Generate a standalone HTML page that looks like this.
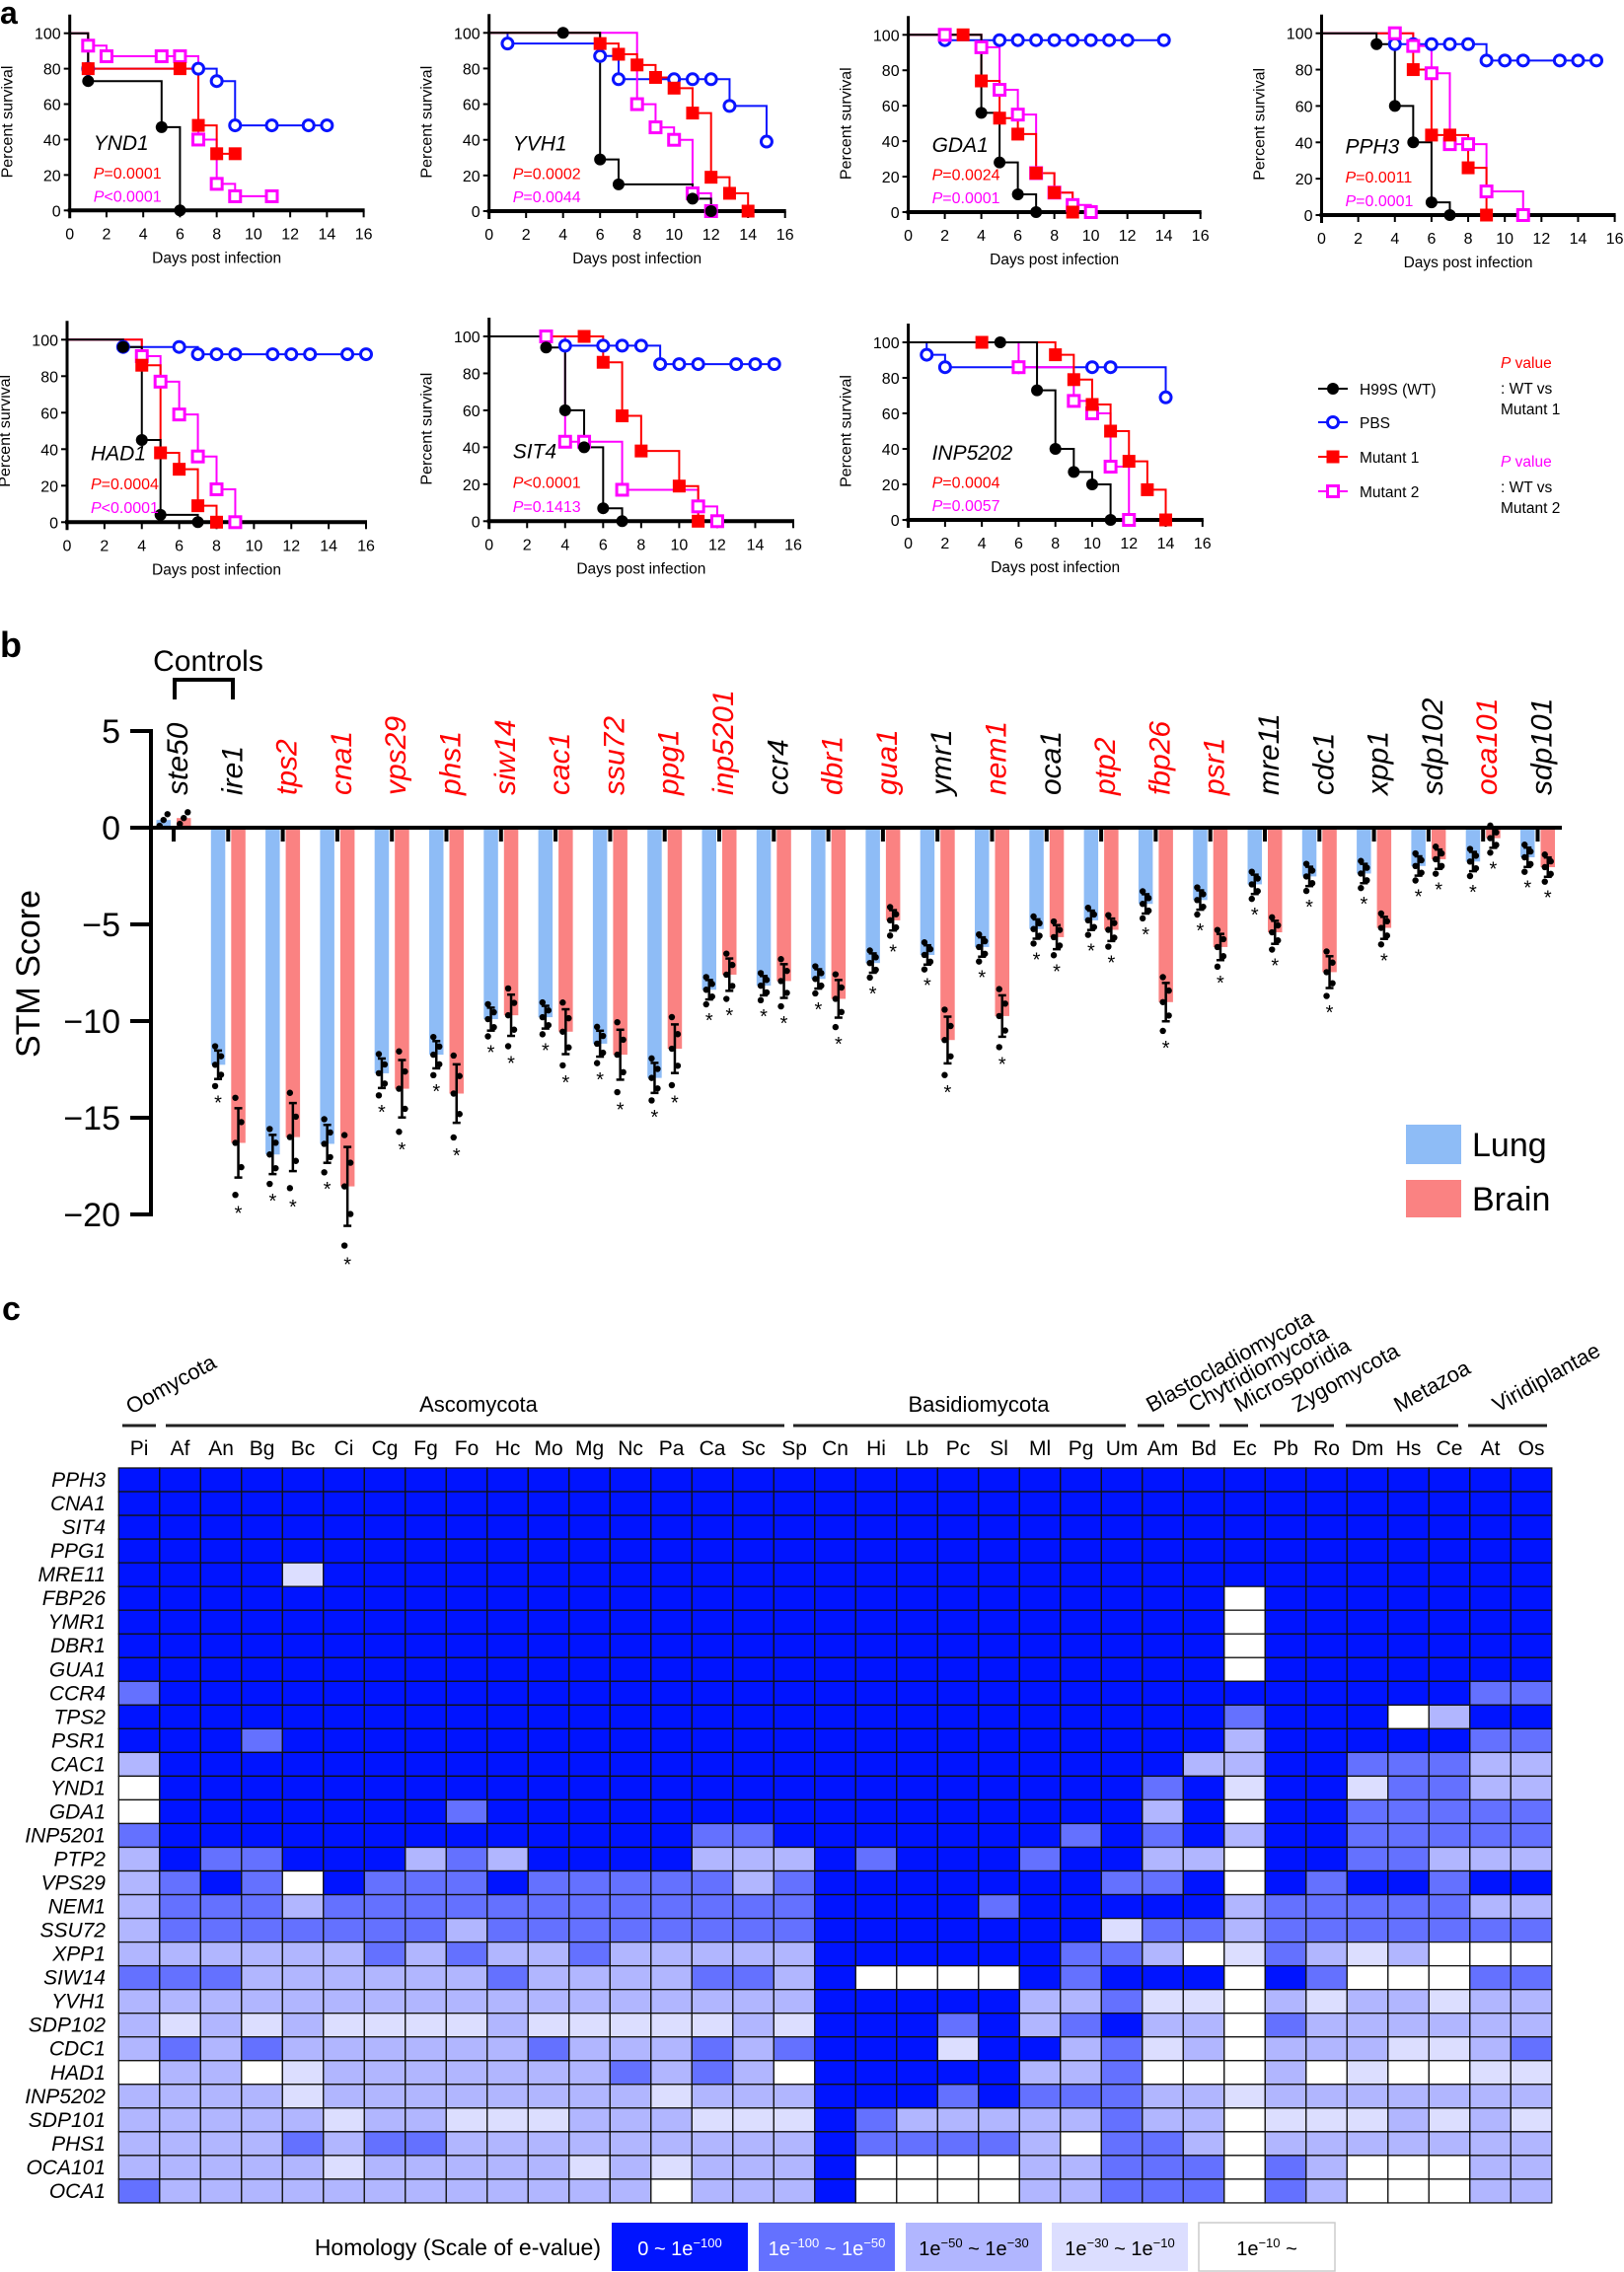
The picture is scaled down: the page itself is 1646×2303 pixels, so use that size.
<!DOCTYPE html>
<html><head><meta charset="utf-8"><style>
html,body{margin:0;padding:0;background:#fff;}
svg{display:block;font-family:"Liberation Sans",sans-serif;}
</style></head><body>
<svg id="s" width="1646" height="2303" viewBox="0 0 1646 2303" xmlns="http://www.w3.org/2000/svg"></svg>
<script>
var o=[];
function T(x,y,s,a){o.push('<text x="'+x+'" y="'+y+'" '+(a||'')+'>'+s+'</text>');}
function L(x1,y1,x2,y2,c,w){o.push('<line x1="'+x1+'" y1="'+y1+'" x2="'+x2+'" y2="'+y2+'" stroke="'+(c||'#000')+'" stroke-width="'+(w||1)+'"/>');}
function R(x,y,w,h,f,a){o.push('<rect x="'+x+'" y="'+y+'" width="'+w+'" height="'+h+'" fill="'+f+'" '+(a||'')+'/>');}
// ---------- panel a ----------
T(0,24,'a','font-size="32" font-weight="bold"');
var COL={k:'#000',b:'#0a14ff',r:'#ff0000',m:'#ff00ff'};
function panel(x0,x16,y100,y0,ser,gene,p1,p2){
  var dx=(x16-x0)/16,dy=(y0-y100)/100;
  function X(d){return x0+d*dx;} function Y(v){return y0-v*dy;}
  ['b','m','r','k'].forEach(function(k){
    var pts=ser[k]; if(!pts) return;
    var d='M'+X(0)+','+Y(100);
    pts.forEach(function(p){d+=' H'+X(p[0])+' V'+Y(p[1]);});
    o.push('<path d="'+d+'" fill="none" stroke="'+COL[k]+'" stroke-width="2"/>');
  });
  L(x0,y100-19,x0,y0+8,'#000',3);
  L(x0-2,y0,x16+1,y0,'#000',4);
  for(var v=0;v<=100;v+=20){L(x0-6,Y(v),x0,Y(v),'#000',2);T(x0-9,Y(v)+6,v,'font-size="16" text-anchor="end"');}
  for(var d=0;d<=16;d+=2){L(X(d),y0,X(d),y0+7,'#000',2);T(X(d),y0+29,d,'font-size="16" text-anchor="middle"');}
  T((x0+x16)/2,y0+53,'Days post infection','font-size="15.5" text-anchor="middle"');
  var cy=(y100+y0)/2;
  T(x0-58,cy,'Percent survival','font-size="16" text-anchor="middle" transform="rotate(-90 '+(x0-58)+' '+cy+')"');
  ['b','m','r','k'].forEach(function(k){
    var pts=ser[k]; if(!pts) return;
    pts.forEach(function(p){var x=X(p[0]),y=Y(p[1]);
      if(k=='k') o.push('<circle cx="'+x+'" cy="'+y+'" r="6" fill="#000"/>');
      if(k=='b') o.push('<circle cx="'+x+'" cy="'+y+'" r="5.5" fill="#fff" stroke="'+COL.b+'" stroke-width="3"/>');
      if(k=='r') R(x-6.5,y-6.5,13,13,'#ff0000');
      if(k=='m') R(x-5.5,y-5.5,11,11,'#fff','stroke="#ff00ff" stroke-width="3"');
    });
  });
  T(x0+24,Y(34),gene,'font-size="21" font-style="italic"');
  T(x0+24,Y(18),'<tspan font-style="italic">P</tspan>'+p1,'font-size="16" fill="#ff0000"');
  T(x0+24,Y(5),'<tspan font-style="italic">P</tspan>'+p2,'font-size="16" fill="#ff00ff"');
}
panel(70.7,368.6,33.7,213.3,{k:[[1,73],[5,47],[6,0]],b:[[1,80],[7,80],[8,73],[9,48],[11,48],[13,48],[14,48]],r:[[1,80],[6,80],[7,48],[8,32],[9,32]],m:[[1,93],[2,87],[5,87],[6,87],[7,40],[8,15],[9,8],[11,8]]},'YND1','=0.0001','&lt;0.0001');
panel(495.7,795.7,33.3,214,{k:[[4,100],[6,29],[7,15],[11,7],[12,0]],b:[[1,94],[6,87],[7,74],[10,74],[11,74],[12,74],[13,59],[15,39]],r:[[6,94],[7,88],[8,82],[9,75],[10,69],[11,55],[12,19],[13,10],[14,0]],m:[[8,60],[9,47],[10,40],[11,10],[12,0]]},'YVH1','=0.0002','=0.0044');
panel(920.6,1216.7,35.3,215,{k:[[4,56],[5,28],[6,10],[7,0]],b:[[2,97],[5,97],[6,97],[7,97],[8,97],[9,97],[10,97],[11,97],[12,97],[14,97]],r:[[3,100],[4,74],[5,53],[6,44],[7,22],[8,11],[9,0]],m:[[2,100],[4,93],[5,69],[6,55],[7,22],[8,11],[9,4],[10,0]]},'GDA1','=0.0024','=0.0001');
panel(1339.5,1636.6,33.7,218,{k:[[3,94],[4,60],[5,40],[6,7],[7,0]],b:[[4,94],[5,94],[6,94],[7,94],[8,94],[9,85],[10,85],[11,85],[13,85],[14,85],[15,85]],r:[[5,80],[6,44],[7,44],[8,26],[9,0]],m:[[4,100],[5,93],[6,78],[7,39],[8,39],[9,13],[11,0]]},'PPH3','=0.0011','=0.0001');
panel(68,371,344.3,529.3,{k:[[3,96],[4,45],[5,4],[7,0]],b:[[3,96],[6,96],[7,92],[8,92],[9,92],[11,92],[12,92],[13,92],[15,92],[16,92]],r:[[4,86],[5,38],[6,29],[7,9],[8,0]],m:[[4,91],[5,77],[6,59],[7,36],[8,18],[9,0]]},'HAD1','=0.0004','&lt;0.0001');
panel(495.7,804,341,528.3,{k:[[3,94],[4,60],[5,40],[6,7],[7,0]],b:[[4,95],[6,95],[7,95],[8,95],[9,85],[10,85],[11,85],[13,85],[14,85],[15,85]],r:[[5,100],[6,86],[7,57],[8,38],[10,19],[11,0]],m:[[3,100],[4,43],[5,43],[7,17],[11,8],[12,0]]},'SIT4','&lt;0.0001','=0.1413');
panel(920.6,1218.8,347,527,{k:[[5,100],[7,73],[8,40],[9,27],[10,20],[11,0]],b:[[1,93],[2,86],[6,86],[10,86],[11,86],[14,69]],r:[[4,100],[8,93],[9,79],[10,65],[11,50],[12,33],[13,17],[14,0]],m:[[6,86],[9,67],[10,60],[11,30],[12,0]]},'INP5202','=0.0004','=0.0057');
var ly=[394,428,463,498];
L(1336,ly[0],1366,ly[0],'#000',2);o.push('<circle cx="1351" cy="'+ly[0]+'" r="6" fill="#000"/>');
L(1336,ly[1],1366,ly[1],COL.b,2);o.push('<circle cx="1351" cy="'+ly[1]+'" r="5.5" fill="#fff" stroke="'+COL.b+'" stroke-width="3"/>');
L(1336,ly[2],1366,ly[2],'#f00',2);R(1344.5,ly[2]-6.5,13,13,'#f00');
L(1336,ly[3],1366,ly[3],'#f0f',2);R(1345.5,ly[3]-5.5,11,11,'#fff','stroke="#ff00ff" stroke-width="3"');
['H99S (WT)','PBS','Mutant 1','Mutant 2'].forEach(function(s,i){T(1378,ly[i]+6,s,'font-size="15.5"');});
T(1521,373,'<tspan font-style="italic">P</tspan> value','font-size="15.5" fill="#ff0000"');
T(1521,399,': WT vs','font-size="15.5"');T(1521,420,'Mutant 1','font-size="15.5"');
T(1521,473,'<tspan font-style="italic">P</tspan> value','font-size="15.5" fill="#ff00ff"');
T(1521,499,': WT vs','font-size="15.5"');T(1521,520,'Mutant 2','font-size="15.5"');
// ---------- panel b ----------
T(0,666,'b','font-size="36" font-weight="bold"');
var Z=839,U=19.6;function BY(v){return Z-v*U;}
L(153,739,153,1233,'#000',4);
[5,0,-5,-10,-15,-20].forEach(function(v){L(132,BY(v),153,BY(v),'#000',4);T(122,BY(v)+12,(v<0?'\u2212':'')+Math.abs(v),'font-size="34" text-anchor="end"');});
T(40,987,'STM Score','font-size="34" text-anchor="middle" transform="rotate(-90 40 987)"');
T(211,680,'Controls','font-size="30" text-anchor="middle"');
o.push('<path d="M177,709 V689 H236 V709" fill="none" stroke="#000" stroke-width="4"/>');
var G=[['ste50',0,.4,.5],['ire1',0,-12.26,-16.3],['tps2',1,-16.9,-16.0],['cna1',1,-16.35,-18.55],['vps29',1,-12.7,-13.5],['phs1',1,-11.74,-13.75],['siw14',1,-9.9,-9.7],['cac1',1,-9.8,-10.55],['ssu72',1,-11.17,-11.74],['ppg1',1,-12.94,-11.43],['inp5201',1,-8.38,-7.6],['ccr4',0,-8.17,-7.93],['dbr1',1,-7.82,-8.85],['gua1',1,-7.0,-4.79],['ymr1',0,-6.58,-10.98],['nem1',1,-6.17,-9.74],['oca1',0,-5.24,-5.66],['ptp2',1,-4.79,-5.28],['fbp26',1,-3.94,-9.02],['psr1',1,-3.74,-6.17],['mre11',0,-2.93,-5.41],['cdc1',0,-2.52,-7.47],['xpp1',0,-2.37,-5.18],['sdp102',0,-1.98,-1.63],['oca101',1,-1.75,-.54],['sdp101',0,-1.53,-2.04]];
var dots=[];
G.forEach(function(g,i){
  var tx=176+55.3*i;
  [[g[2],tx-17.5,'#8ebcf6'],[g[3],tx+3,'#fa8282']].forEach(function(b,j){
    var m=b[0],y1=Math.min(BY(m),Z),h=Math.abs(BY(m)-Z);
    R(b[1],y1,14.5,h,b[2]);
    var cx=b[1]+7.25;
    if(i>0){
      var sp=Math.max(0.5,Math.abs(m)*(j?0.11:0.06));
      L(cx,BY(m+sp),cx,BY(m-sp),'#000',2.5);L(cx-4,BY(m+sp),cx+4,BY(m+sp),'#000',2.5);L(cx-4,BY(m-sp),cx+4,BY(m-sp),'#000',2.5);
      [-1.5,-0.7,0,0.6,1.3].forEach(function(f,k){dots.push([cx+(k%2?3:-3),BY(m+f*sp)]);});
      T(cx,BY(m-sp*1.6)+22,'*','font-size="20" text-anchor="middle"');
    } else {[0,.3,.6].forEach(function(f,k){dots.push([cx+(k-1)*4,BY(m+f-.3)]);});}
  });
  L(tx,Z,tx,Z+14,'#000',4);
  var c=g[1]?'#ff0000':'#000';
  T(tx+14,806,g[0],'font-size="30" font-style="italic" fill="'+c+'" transform="rotate(-90 '+(tx+14)+' 806)"');
});
dots.forEach(function(d){o.push('<circle cx="'+d[0]+'" cy="'+d[1]+'" r="3.2" fill="#000"/>');});
L(153,Z,1583,Z,'#000',4);
R(1425,1140,56,40,'#8ebcf6');R(1425,1196,56,38,'#fa8282');
T(1492,1172,'Lung','font-size="34"');T(1492,1227,'Brain','font-size="34"');
// ---------- panel c ----------
T(2,1338,'c','font-size="34" font-weight="bold"');
var sp=['Pi','Af','An','Bg','Bc','Ci','Cg','Fg','Fo','Hc','Mo','Mg','Nc','Pa','Ca','Sc','Sp','Cn','Hi','Lb','Pc','Sl','Ml','Pg','Um','Am','Bd','Ec','Pb','Ro','Dm','Hs','Ce','At','Os'];
var genes=['PPH3','CNA1','SIT4','PPG1','MRE11','FBP26','YMR1','DBR1','GUA1','CCR4','TPS2','PSR1','CAC1','YND1','GDA1','INP5201','PTP2','VPS29','NEM1','SSU72','XPP1','SIW14','YVH1','SDP102','CDC1','HAD1','INP5202','SDP101','PHS1','OCA101','OCA1'];
var D=[
['00000000000000000','00000000000000000'],
['00000000000000000','00000000000000000'],
['00000000000000000','00000000000000000'],
['00000000000000000','00000000000000000'],
['00003000000000000','00000000000000000'],
['00000000000000000','00000000040000000'],
['00000000000000000','00000000040000000'],
['00000000000000000','00000000040000000'],
['00000000000000000','00000000040000000'],
['10000000000000000','00000000000000011'],
['00000000000000000','00000000010004200'],
['00010000000000000','00000000020000011'],
['20000000000000000','00000000220011122'],
['40000000000000000','00000001030031122'],
['40000000100000000','00000002040011111'],
['10000000000000110','00000101020011111'],
['20110002120000222','10001002240011222'],
['21014011101111121','00000011040100100'],
['21112111111111111','00010000021111122'],
['21111111211111111','00000031121111111'],
['22222212122122222','00000112431232444'],
['11122222212222112','44440100040144411'],
['22222222222222222','00002213342322322'],
['23232333323333323','00102102241222222'],
['21212222221222121','00300213242223321'],
['42243222222212124','00002214442434433'],
['22223222222223222','00101112232222222'],
['22222322333222333','12222212243332323'],
['22221211222222222','11112411242222222'],
['22222322222323222','44442211141244422'],
['12222222222224222','44442211141244422']];
var PAL=['#0014ff','#6471ff','#b1b6ff','#dcdeff','#ffffff'];
var hx=120.3,hy=1488,cw=41.5,rh=24.03;
D.forEach(function(r,i){var s=r[0]+'0'+r[1];
  for(var j=0;j<35;j++){R(hx+j*cw,hy+i*rh,cw,rh,PAL[+s[j]],'stroke="#111" stroke-width="1.3"');}
  T(107,hy+i*rh+rh/2+7,genes[i],'font-size="21" font-style="italic" text-anchor="end"');
});
sp.forEach(function(s,j){T(hx+j*cw+cw/2,1475,s,'font-size="21" text-anchor="middle"');});
[[124,158],[168,795],[804,1141],[1153,1180],[1193,1226],[1236,1265],[1277,1352],[1364,1478],[1488,1568]].forEach(function(a){L(a[0],1445,a[1],1445,'#222',3);});
T(485,1431,'Ascomycota','font-size="22" text-anchor="middle"');
T(992,1431,'Basidiomycota','font-size="22" text-anchor="middle"');
[['Oomycota',133,1434],['Blastocladiomycota',1167,1432],['Chytridiomycota',1210,1432],['Microsporidia',1256,1432],['Zygomycota',1315,1432],['Metazoa',1418,1432],['Viridiplantae',1518,1432]].forEach(function(a){
  T(a[1],a[2],a[0],'font-size="22" transform="rotate(-29 '+a[1]+' '+a[2]+')"');});
T(609,2286,'Homology (Scale of e-value)','font-size="23" text-anchor="end"');
var lb=[[620,'0 ~ 1e<tspan dy="-8" font-size="13">\u2212100</tspan>','#fff'],[769,'1e<tspan dy="-8" font-size="13">\u2212100</tspan><tspan dy="8"> ~ 1e</tspan><tspan dy="-8" font-size="13">\u221250</tspan>','#fff'],[918,'1e<tspan dy="-8" font-size="13">\u221250</tspan><tspan dy="8"> ~ 1e</tspan><tspan dy="-8" font-size="13">\u221230</tspan>','#000'],[1066,'1e<tspan dy="-8" font-size="13">\u221230</tspan><tspan dy="8"> ~ 1e</tspan><tspan dy="-8" font-size="13">\u221210</tspan>','#000'],[1215,'1e<tspan dy="-8" font-size="13">\u221210</tspan><tspan dy="8"> ~</tspan>','#000']];
lb.forEach(function(a,i){R(a[0],2253,138,49,PAL[i],i==4?'stroke="#ccc" stroke-width="1.5"':'');T(a[0]+69,2286,a[1],'font-size="20" text-anchor="middle" fill="'+a[2]+'"');});
document.getElementById('s').innerHTML=o.join('');
</script>
</body></html>
